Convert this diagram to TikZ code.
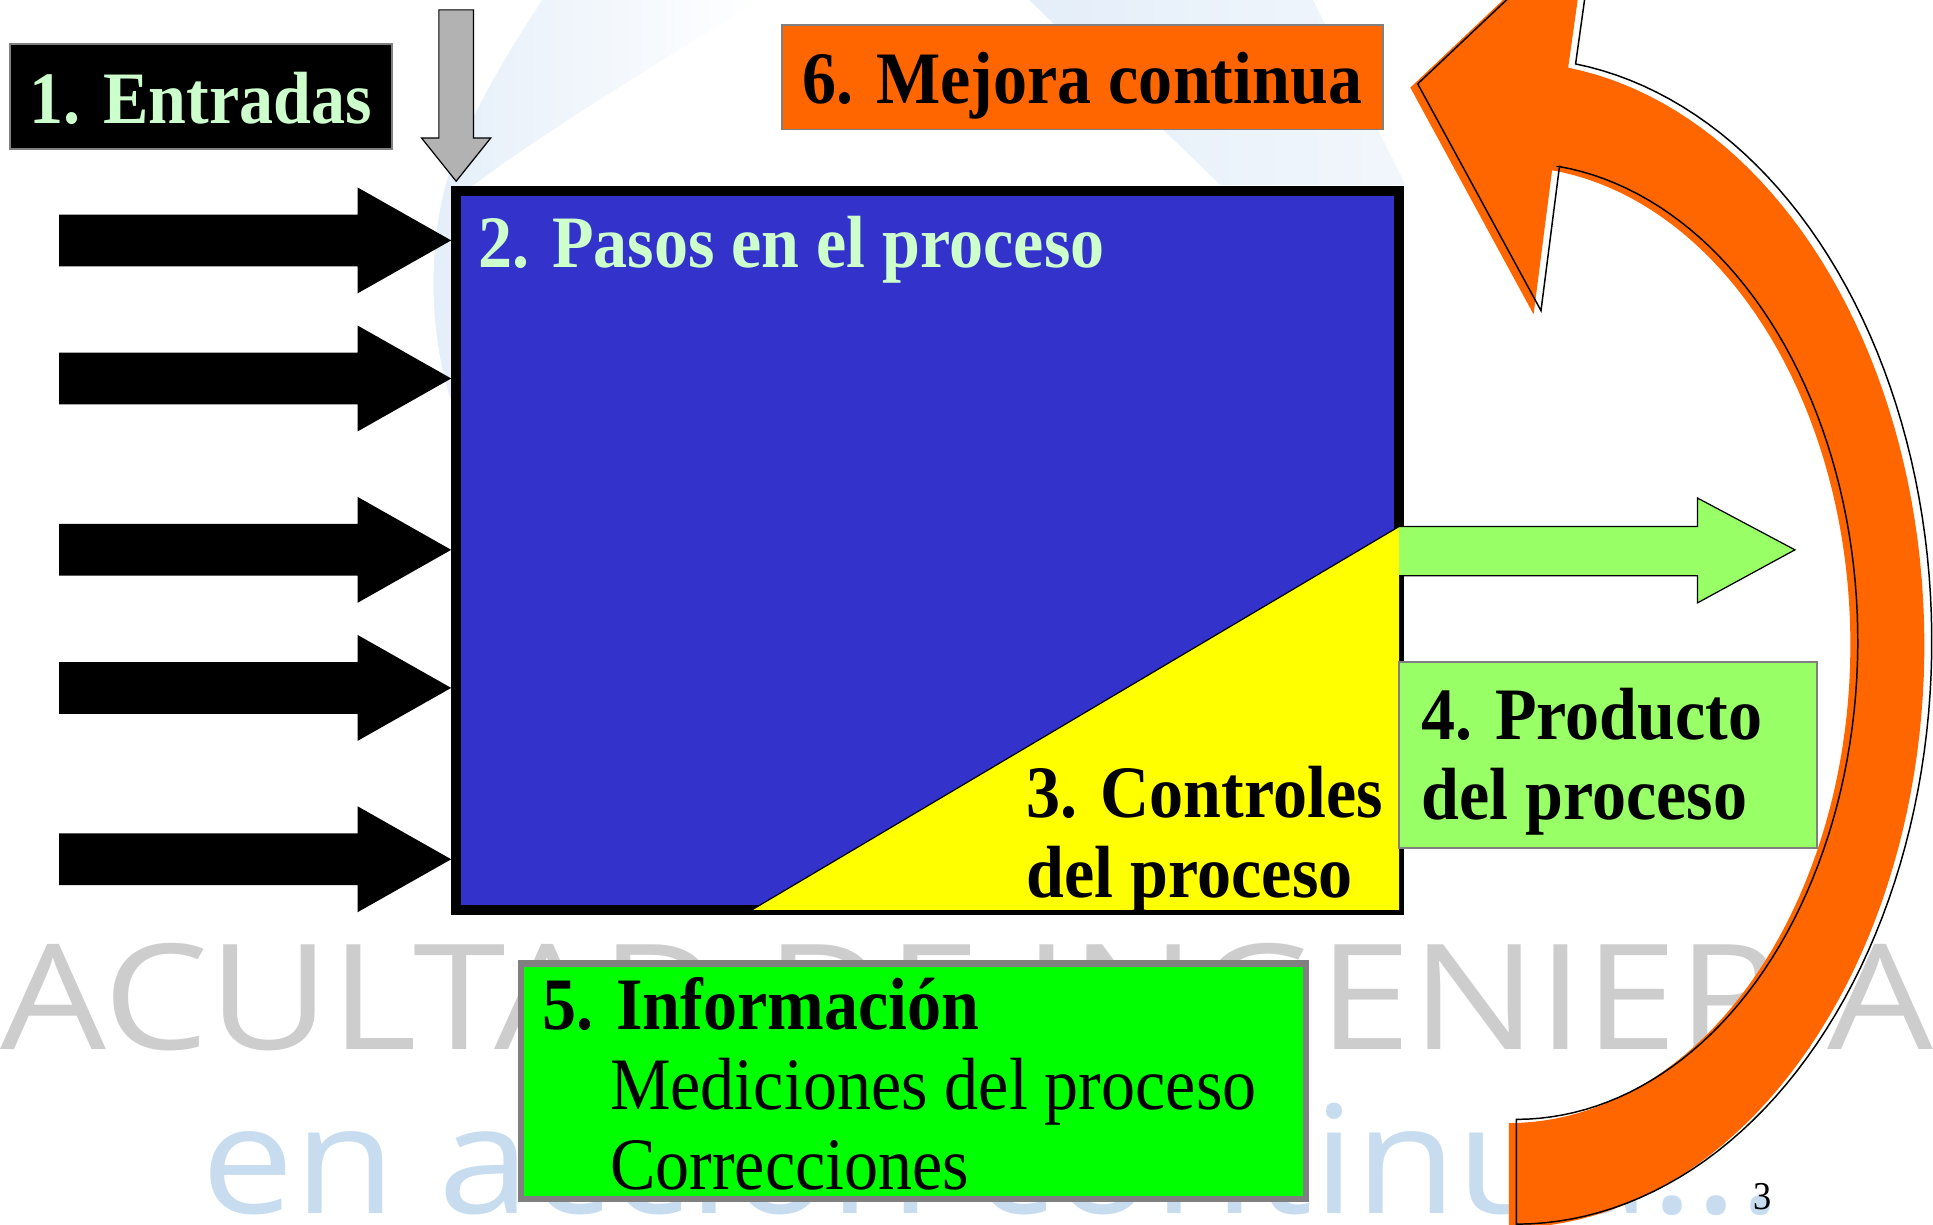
\documentclass[tikz,border=0pt]{standalone}
\usepackage{fontspec}
\setmainfont{Liberation Serif}[FakeStretch=0.92]
\newfontfamily\wmfont{Open Sans}[FakeStretch=1.14]
\newfontfamily\wmfontb{Open Sans}[FakeStretch=1.10]
\usetikzlibrary{calc}
\definecolor{pblue}{HTML}{3333CC}
\definecolor{ltgreen}{HTML}{CCFFCC}
\definecolor{orng}{HTML}{FF6600}
\definecolor{pgreen}{HTML}{99FF66}
\definecolor{igreen}{HTML}{00FF00}
\definecolor{ylw}{HTML}{FFFF00}
\definecolor{garrow}{HTML}{B2B2B2}
\definecolor{bgray}{HTML}{808080}
\definecolor{wmgray}{HTML}{CDCDCD}
\definecolor{wmblue}{HTML}{C8DCF0}
\definecolor{logoblue}{HTML}{E4EEF9}
\begin{document}
\begin{tikzpicture}[x=0.5pt,y=-0.5pt,
  hfont/.style={font=\fontsize{30}{32.5}\selectfont\bfseries},
  nfont/.style={font=\fontsize{30}{32.5}\selectfont},
  txt/.style={inner sep=0pt, outer sep=0pt, anchor=base west, align=left},
  labelbox/.style={inner sep=0pt, outer sep=0pt, draw=bgray, line width=0.75pt, text height=21.5pt, text depth=0pt},
  plainbox/.style={inner sep=0pt, outer sep=0pt},
  thinline/.style={draw=black, line width=0.5pt}
]
\useasboundingbox (0,0) rectangle (1568,993);
\fill[white] (0,0) rectangle (1568,993);

% faint background logo
\shade[left color=logoblue, right color=white] (440,0) -- (615,0) .. controls (520,60) and (420,120) .. (372,160) -- (372,340) .. controls (345,280) and (345,180) .. (372,120) .. controls (395,70) and (420,30) .. (440,0) -- cycle;
\shade[left color=logoblue, right color=white!50!logoblue] (835,0) -- (1065,0) -- (1140,150) -- (990,150) -- cycle;

% watermark
\node[inner sep=0pt, anchor=base west, text=wmgray, font=\wmfont\fontsize{59.5}{59.5}\selectfont] (wma) at (0,851) {ACULTAD DE INGENIERIA};
\node[inner sep=0pt, anchor=base west, text=wmblue, font=\wmfontb\fontsize{61}{61}\selectfont] (wmb) at (163,984) {en acción continua...};

% process box
\node[plainbox, draw=black, line width=4pt, fill=pblue, minimum width=382.5pt, minimum height=291.5pt] (proc) at (752.5,446.5) {};

% yellow control triangle
\coordinate (apex) at (1135,427);
\coordinate (tri) at (610,738);
\fill[ylw] (tri) -- (apex) -- (proc.south east) -- cycle;
\draw[thinline] (tri) -- (apex);

% inputs
\foreach \yc [count=\i] in {195,307,446,558,697} {
  \coordinate (in\i) at (366,\yc);
  \fill[black] ({48},{\yc-21}) -- ({290},{\yc-21}) -- ({290},{\yc-43}) -- (in\i) -- ({290},{\yc+43}) -- ({290},{\yc+21}) -- ({48},{\yc+21}) -- cycle;
}

% grey arrow into the box
\coordinate (gtip) at (370,147);
\draw[thinline, fill=garrow] (356,8) -- (384,8) -- (384,112) -- (398,112) -- (gtip) -- (342,112) -- (356,112) -- cycle;

% labels
\node[labelbox, fill=black, text=ltgreen, hfont, minimum width=155pt, minimum height=42.5pt] (entr) at (163,78.5) {1. Entradas};
\node[labelbox, fill=orng, text=black, hfont, minimum width=244pt, minimum height=42.5pt] (mej) at (878,62.5) {6. Mejora continua};
\node[txt, hfont, text=ltgreen] (pasos) at (388,217) {2. Pasos en el proceso};
\node[txt, hfont] (ctrl) at (833,728) {3. Controles\\del proceso};

% output arrow
\coordinate (ostart) at (1135,427);
\coordinate (otip) at (1456,446);
\draw[thinline, fill=pgreen] (ostart) -- (1377,427) -- (1377,404) -- (otip) -- (1377,489) -- (1377,467) -- (1135,467);

% product box
\node[plainbox, draw=bgray, line width=0.75pt, fill=pgreen, minimum width=169.5pt, minimum height=75.5pt] (prod) at (1304.5,612.5) {};
\node[txt, hfont] (prodt) at (1153,665) {4. Producto\\del proceso};

% information box
\node[plainbox, draw=bgray, line width=2.5pt, fill=igreen, minimum width=318.5pt, minimum height=95.5pt] (info) at (741,877) {};
\node[txt, nfont] (infot) at (440,965) {\textbf{5. Información}\\\hspace*{27.5pt}Mediciones del proceso\\\hspace*{27.5pt}Correcciones};

% improvement loop arrow
\def\looppath{plot[domain=90:-81.8, samples=90] ({1230+337*cos(\x)}, {520+473*sin(\x)})
  -- (1295,-69) -- (1150,68) -- (1250,252) -- (1265,135)
  -- plot[domain=-82.8:90, samples=90] ({1230+277*cos(\x)}, {520+388*sin(\x)}) -- cycle}
\fill[orng, shift={(-6,3)}] \looppath;
\draw[thinline, line width=0.6pt] \looppath;

% page number
\node[txt, font=\fontsize{16}{16}\selectfont] (pg) at (1422,981) {3};
\end{tikzpicture}
\end{document}
